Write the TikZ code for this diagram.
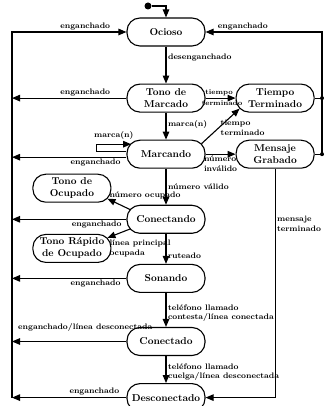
\documentclass[tikz,border=0pt]{standalone}
\usetikzlibrary{positioning, arrows.meta}

\begin{document}
\begin{tikzpicture}[
    estado/.style={draw, line width=1.1pt, rounded corners=13pt, minimum width=78pt, minimum height=28pt, inner sep=2pt, align=center, font=\bfseries},
    flecha/.style={line width=1.1pt, -{Triangle[length=8pt,width=6.5pt]}},
    linea/.style={line width=1.1pt},
    etiq/.style={font=\footnotesize\bfseries, inner sep=1.5pt, align=left},
    inicial/.style={circle, fill, inner sep=0pt, minimum size=7pt}]
    \useasboundingbox (0,0) rectangle (326pt,406pt);

    % Estados
    \node[estado] (ocioso) at (166pt,374pt) {Ocioso};
    \node[estado, below=37pt of ocioso] (tonomarcado) {Tono de\\Marcado};
    \node[estado, right=30pt of tonomarcado] (tiempo) {Tiempo\\Terminado};
    \node[estado, below=27pt of tonomarcado] (marcando) {Marcando};
    \node[estado, right=30pt of marcando] (mensaje) {Mensaje\\Grabado};
    \node[estado, below=36pt of marcando] (conectando) {Conectando};
    \node[estado, above left=2pt and 15pt of conectando] (ocupado) {Tono de\\Ocupado};
    \node[estado, below left=0pt and 15pt of conectando] (rapido) {Tono R\'apido\\de Ocupado};
    \node[estado, below=30pt of conectando] (sonando) {Sonando};
    \node[estado, below=34pt of sonando] (conectado) {Conectado};
    \node[estado, below=27pt of conectado] (desconectado) {Desconectado};

    % Inicio y barras laterales
    \node[inicial] (inicio) at (148pt,400pt) {};
    \coordinate (izq) at (12pt,0);
    \coordinate (der) at (322pt,0);
    \draw[flecha] (inicio) -| (ocioso);

    % Transiciones principales
    \draw[flecha] (ocioso) -- node[etiq, right, pos=0.3] {desenganchado} (tonomarcado);
    \draw[flecha] (tonomarcado) -- node[etiq, right, pos=0.45] {marca(n)} (marcando);
    \draw[flecha] (marcando) -- node[etiq, right, pos=0.5] {n\'umero v\'alido} (conectando);
    \draw[flecha] (conectando) -- node[etiq, right, pos=0.73] {ruteado} (sonando);
    \draw[flecha] (sonando) -- node[etiq, right, pos=0.6] {tel\'efono llamado\\contesta/l\'inea conectada} (conectado);
    \draw[flecha] (conectado) -- node[etiq, right, pos=0.6] {tel\'efono llamado\\cuelga/l\'inea desconectada} (desconectado);

    % Transiciones laterales
    \draw[flecha] (tonomarcado) -- node[etiq, font=\scriptsize\bfseries, above, pos=0.45] {tiempo} node[etiq, font=\scriptsize\bfseries, below, pos=0.55] {terminado} (tiempo);
    \draw[flecha] ([xshift=-4pt,yshift=-4pt]marcando.north east) -- node[etiq, right, pos=0.45] {tiempo\\terminado} ([xshift=4pt,yshift=4pt]tiempo.south west);
    \draw[flecha] (marcando) -- node[etiq, below, pos=0.5] {n\'umero\\inv\'alido} (mensaje);
    \draw[flecha] ([yshift=3pt]marcando.west) -- ++(-30pt,0) |- node[etiq, above=3pt, pos=0.75] {marca(n)} ([xshift=4.7pt,yshift=10pt]marcando.west);
    \draw[flecha] ([xshift=4pt,yshift=-5pt]conectando.north west) -- node[etiq, right, pos=1, yshift=3pt] {n\'umero ocupado} ([xshift=-4pt,yshift=4pt]ocupado.south east);
    \draw[flecha] ([xshift=4pt,yshift=5pt]conectando.south west) -- node[etiq, below right, pos=1] {l\'inea principal\\ocupada} ([xshift=-4pt,yshift=-4pt]rapido.north east);
    \draw[flecha] (mensaje.south) |- node[etiq, right, pos=0.12] {mensaje\\terminado} (desconectado.east);

    % Enganchado (izquierda)
    \draw[flecha] (desconectado.west -| izq) -- (ocioso.west -| izq) -- node[etiq, above, pos=0.64] {enganchado} (ocioso.west);
    \draw[flecha] (tonomarcado.west) -- node[etiq, above, pos=0.36] {enganchado} (tonomarcado.west -| izq);
    \draw[flecha] ([yshift=-3pt]marcando.west) -- node[etiq, below, pos=0.27] {enganchado} ([yshift=-3pt]marcando.west -| izq);
    \draw[flecha] (conectando.west) -- node[etiq, below, pos=0.26] {enganchado} (conectando.west -| izq);
    \draw[flecha] (sonando.west) -- node[etiq, below, pos=0.27] {enganchado} (sonando.west -| izq);
    \draw[flecha] (conectado.west) -- node[etiq, above=8pt, pos=0.36] {enganchado/l\'inea desconectada} (conectado.west -| izq);
    \draw[flecha] (desconectado.west) -- node[etiq, above, pos=0.28] {enganchado} (desconectado.west -| izq);

    % Enganchado (derecha)
    \draw[linea] (tiempo.east) -- (tiempo.east -| der);
    \draw[flecha] (mensaje.east) -- (mensaje.east -| der) -- (ocioso.east -| der) -- node[etiq, above, pos=0.68] {enganchado} (ocioso.east);
    \fill (tiempo.east -| der) circle (2pt);
    \fill (mensaje.east -| der) circle (2pt);
\end{tikzpicture}
\end{document}
